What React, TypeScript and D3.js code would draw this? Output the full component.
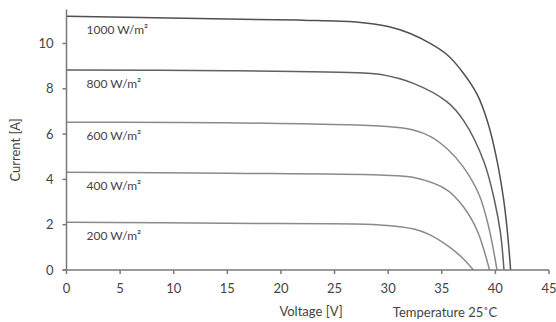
import React from "react";
import * as d3 from "d3";

const xTicks = [0, 5, 10, 15, 20, 25, 30, 35, 40, 45];
const yTicks = [0, 2, 4, 6, 8, 10];

const seriesNames = ["1000 W/m²", "800 W/m²", "600 W/m²", "400 W/m²", "200 W/m²"];

const v1000 = [0, 15, 22, 27, 30, 32, 34, 35.5, 37, 38.3, 39.3, 40.1, 40.75, 41.12, 41.42];
const i1000 = [11.2, 11.08, 11.03, 10.95, 10.75, 10.45, 9.98, 9.5, 8.7, 7.75, 6.5, 4.95, 3.17, 1.69, 0];

const v800 = [0, 15, 27.7, 29.2, 32.35, 35.47, 37.1, 38.95, 39.9, 40.48, 40.8];
const i800 = [8.83, 8.8, 8.7, 8.64, 8.24, 7.43, 6.55, 4.76, 3.1, 1.62, 0];

const v600 = [0, 15, 29.9, 32.35, 34.0, 35.5, 37.0, 38.5, 39.4, 40.15];
const i600 = [6.52, 6.5, 6.33, 6.18, 5.88, 5.35, 4.55, 3.3, 1.85, 0];

const v400 = [0, 15, 29.2, 32.4, 35.5, 37.0, 38.35, 39.45];
const i400 = [4.31, 4.27, 4.19, 4.08, 3.53, 2.8, 1.69, 0];

const v200 = [0, 15, 29.2, 32.4, 33.9, 35.6, 37.0, 37.95];
const i200 = [2.11, 2.06, 1.99, 1.81, 1.55, 1.05, 0.5, 0];

const voltages = [v1000, v800, v600, v400, v200];
const currents = [i1000, i800, i600, i400, i200];
const colors = ["#505050", "#606060", "#8a8a8a", "#8a8a8a", "#8a8a8a"];

export default function App() {
  const W = 556, H = 322;
  const x = d3.scaleLinear().domain([0, 45]).range([66.5, 549]);
  const y = d3.scaleLinear().domain([0, 11.5]).range([270, 9.5]);
  const line = d3
    .line<[number, number]>()
    .x((d) => x(d[0]))
    .y((d) => y(d[1]))
    .curve(d3.curveCatmullRom.alpha(0.5));
  const font = "Lato, 'Open Sans', sans-serif";
  const axisColor = "#7a7a7a";
  const textColor = "#444";
  const fs = 13;

  return (
    <svg
      width={W}
      height={H}
      style={{ position: "absolute", left: 0, top: 0, background: "#fff" }}
      fontFamily={font}
    >
      {voltages.map((vs, k) => (
        <path
          key={k}
          d={line(vs.map((v, j) => [v, currents[k][j]] as [number, number])) || ""}
          fill="none"
          stroke={colors[k]}
          strokeWidth={1.5}
        />
      ))}
      {seriesNames.map((name, k) => (
        <text
          key={name}
          x={x(0) + 20}
          y={y(currents[k][0]) + 18}
          fontSize={fs - 1}
          fill={textColor}
        >
          {name}
        </text>
      ))}
      <line x1={x(0)} x2={x(0)} y1={y(11.5)} y2={y(0)} stroke={axisColor} strokeWidth={1.5} />
      {yTicks.map((t) => (
        <g key={t}>
          <line x1={x(0) - 4} x2={x(0)} y1={y(t)} y2={y(t)} stroke={axisColor} strokeWidth={1.5} />
          <text x={x(0) - 13} y={y(t) + 4.5} textAnchor="end" fontSize={fs} fill={textColor}>
            {t}
          </text>
        </g>
      ))}
      <line x1={x(0) - 4} x2={x(45)} y1={y(0)} y2={y(0)} stroke={axisColor} strokeWidth={1.5} />
      {xTicks.map((t) => (
        <g key={t}>
          <line x1={x(t)} x2={x(t)} y1={y(0)} y2={y(0) + 4} stroke={axisColor} strokeWidth={1.5} />
          <text x={x(t)} y={y(0) + 23} textAnchor="middle" fontSize={fs} fill={textColor}>
            {t}
          </text>
        </g>
      ))}
      <text
        transform={`translate(20, ${y(5.3)}) rotate(-90)`}
        textAnchor="middle"
        fontSize={fs}
        fill={textColor}
      >
        Current [A]
      </text>
      <text x={311} y={316} textAnchor="middle" fontSize={fs} fill={textColor}>
        Voltage [V]
      </text>
      <text x={445} y={317} textAnchor="middle" fontSize={fs} fill={textColor}>
        Temperature 25˚C
      </text>
    </svg>
  );
}
